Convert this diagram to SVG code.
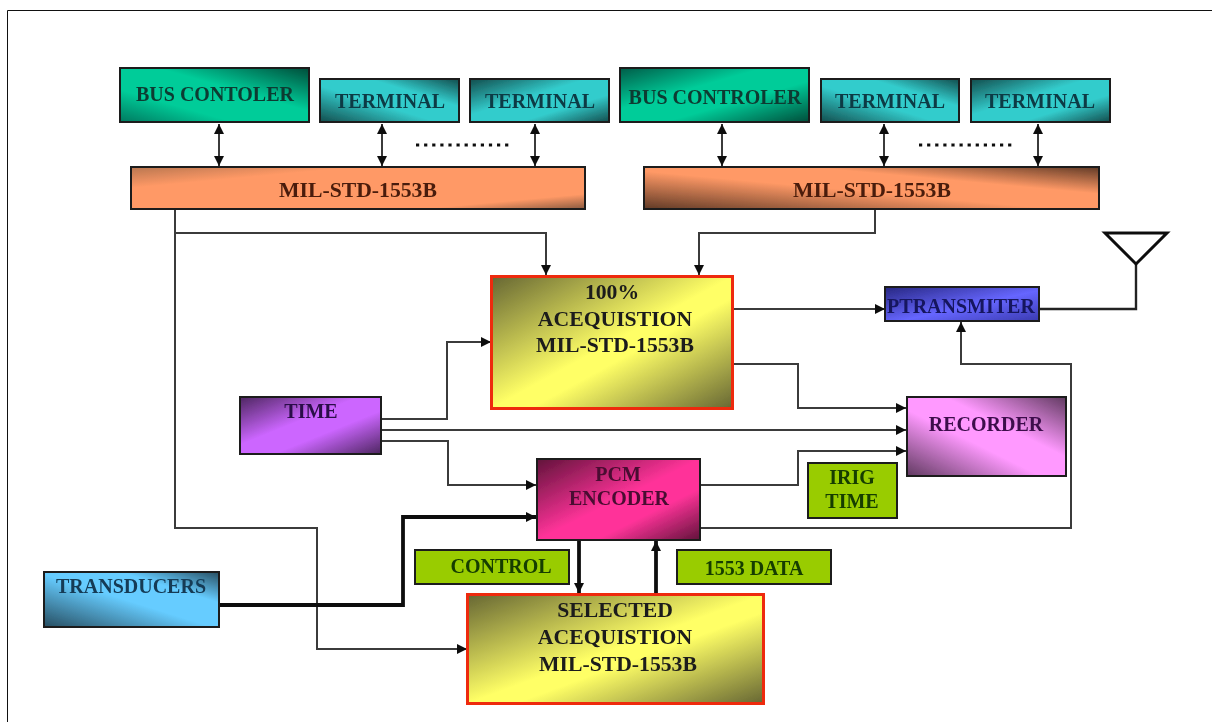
<svg xmlns="http://www.w3.org/2000/svg" width="1212" height="722" viewBox="0 0 1212 722">
<style>
text{font-family:"Liberation Serif","Times New Roman",serif;font-weight:bold;font-size:20px;text-anchor:middle;fill:#1a1a1a}
.w{font-size:21.7px}
.box{stroke:#1c1c1c;stroke-width:2}
.red{stroke:#ee2a10;stroke-width:3}
.c{fill:none;stroke:#3a3a3a;stroke-width:2}
.e{marker-end:url(#ah)}
.b{marker-start:url(#ah);marker-end:url(#ah)}
.t{stroke:#111;stroke-width:3.8}
.lbl{fill:#99cc00}
</style>
<defs>
<marker id="ah" markerUnits="userSpaceOnUse" markerWidth="11" markerHeight="12" refX="10" refY="6" orient="auto-start-reverse"><path d="M0,1L10,6L0,11Z" fill="#111"/></marker>
<filter id="soft" filterUnits="userSpaceOnUse" x="0" y="0" width="1212" height="722"><feGaussianBlur stdDeviation="0.7"/></filter>
<linearGradient id="gBus1" x1="0" y1="1" x2="1" y2="0"><stop offset="0" stop-color="#00795f"/><stop offset=".3" stop-color="#00cc99"/><stop offset=".6" stop-color="#00cc99"/><stop offset="1" stop-color="#004d3a"/></linearGradient>
<linearGradient id="gBus2" x1="0" y1="0" x2="1" y2="1"><stop offset="0" stop-color="#005c48"/><stop offset=".38" stop-color="#00cc99"/><stop offset=".62" stop-color="#00cc99"/><stop offset="1" stop-color="#004d3a"/></linearGradient>
<linearGradient id="gTerm" x1="0" y1="1" x2="1" y2="0"><stop offset="0" stop-color="#134d4d"/><stop offset=".42" stop-color="#33cccc"/><stop offset=".68" stop-color="#33cccc"/><stop offset="1" stop-color="#134d4d"/></linearGradient>
<linearGradient id="gTerm2" x1="0" y1="0" x2="1" y2="1"><stop offset="0" stop-color="#134d4d"/><stop offset=".42" stop-color="#33cccc"/><stop offset=".68" stop-color="#33cccc"/><stop offset="1" stop-color="#134d4d"/></linearGradient>
<linearGradient id="gMil1" x1="0" y1="0" x2="1" y2="1"><stop offset="0" stop-color="#b87650"/><stop offset=".25" stop-color="#ff9966"/><stop offset=".82" stop-color="#ff9966"/><stop offset="1" stop-color="#8a5a40"/></linearGradient>
<linearGradient id="gMil2" x1="0" y1="1" x2="1" y2="0"><stop offset="0" stop-color="#603a26"/><stop offset=".45" stop-color="#ff9966"/><stop offset=".68" stop-color="#ff9966"/><stop offset="1" stop-color="#603a26"/></linearGradient>
<linearGradient id="gYel" x1="0" y1="0" x2="1" y2="1"><stop offset="0" stop-color="#666633"/><stop offset=".5" stop-color="#ffff66"/><stop offset=".58" stop-color="#ffff66"/><stop offset="1" stop-color="#666633"/></linearGradient>
<linearGradient id="gTime" x1="0" y1="0" x2="1" y2="1"><stop offset="0" stop-color="#4d2660"/><stop offset=".42" stop-color="#cc66ff"/><stop offset=".62" stop-color="#cc66ff"/><stop offset="1" stop-color="#4d2660"/></linearGradient>
<linearGradient id="gRec" x1="0" y1="1" x2="1" y2="0"><stop offset="0" stop-color="#603a60"/><stop offset=".42" stop-color="#ff99ff"/><stop offset=".62" stop-color="#ff99ff"/><stop offset="1" stop-color="#603a60"/></linearGradient>
<linearGradient id="gPcm" x1="0" y1="0" x2="1" y2="1"><stop offset="0" stop-color="#60133a"/><stop offset=".5" stop-color="#ff3399"/><stop offset=".68" stop-color="#ff3399"/><stop offset="1" stop-color="#60133a"/></linearGradient>
<linearGradient id="gTr" x1="0" y1="1" x2="1" y2="0"><stop offset="0" stop-color="#264d60"/><stop offset=".48" stop-color="#66ccff"/><stop offset=".72" stop-color="#66ccff"/><stop offset="1" stop-color="#264d60"/></linearGradient>
<linearGradient id="gTx" x1="0" y1="0" x2="1" y2="1"><stop offset="0" stop-color="#262680"/><stop offset=".55" stop-color="#6666ff"/><stop offset="1" stop-color="#3a3ab0"/></linearGradient>
</defs>
<path d="M7.500,722V10.500H1212" fill="none" stroke="#111" stroke-width="1"/>
<g filter="url(#soft)">
<g id="connectors">
<path class="c b" d="M219,124V166"/>
<path class="c b" d="M382,124V166"/>
<path class="c b" d="M535,124V166"/>
<path class="c b" d="M722,124V166"/>
<path class="c b" d="M884,124V166"/>
<path class="c b" d="M1038,124V166"/>
<path class="c e" d="M175,209V233H546V275"/>
<path class="c e" d="M175,233V528H317V649H467"/>
<path class="c e" d="M875,209V233H699V275"/>
<path class="c e" d="M733,309H885"/>
<path class="c e" d="M733,364H798V408H906"/>
<path class="c e" d="M381,419H447V342H491"/>
<path class="c e" d="M381,430H906"/>
<path class="c e" d="M381,441H448V485H536"/>
<path class="c e" d="M700,485H798V451H906"/>
<path class="c e" d="M700,528H1071V364H961V322"/>
<path class="c t e" d="M219,605H403V517H536"/>
<path class="c t e" d="M579,541V593"/>
<path class="c t e" d="M656,594V541"/>
<path d="M1136,264V309H1039" fill="none" stroke="#222" stroke-width="2.400"/>
<path d="M1105,233H1167L1136,264Z" fill="#fff" stroke="#111" stroke-width="3"/>
<path d="M416,145H512" fill="none" stroke="#111" stroke-width="3" stroke-dasharray="3.200 4.900"/>
<path d="M919,145H1014" fill="none" stroke="#111" stroke-width="3" stroke-dasharray="3.200 4.900"/>
</g>
<g id="bus-controller-1"><rect class="box" x="120" y="68" width="189" height="54" fill="url(#gBus1)"/><text x="215" y="101" style="fill:#0b3a30">BUS CONTOLER</text></g>
<g id="terminal-1"><rect class="box" x="320" y="79" width="139" height="43" fill="url(#gTerm)"/><text x="390" y="108" style="fill:#0d3a44">TERMINAL</text></g>
<g id="terminal-2"><rect class="box" x="470" y="79" width="139" height="43" fill="url(#gTerm2)"/><text x="540" y="108" style="fill:#0d3a44">TERMINAL</text></g>
<g id="bus-controller-2"><rect class="box" x="620" y="68" width="189" height="54" fill="url(#gBus2)"/><text x="715" y="104" style="fill:#0b3a30">BUS CONTROLER</text></g>
<g id="terminal-3"><rect class="box" x="821" y="79" width="138" height="43" fill="url(#gTerm)"/><text x="890" y="108" style="fill:#0d3a44">TERMINAL</text></g>
<g id="terminal-4"><rect class="box" x="971" y="79" width="139" height="43" fill="url(#gTerm2)"/><text x="1040" y="108" style="fill:#0d3a44">TERMINAL</text></g>
<g id="bus-1"><rect class="box" x="131" y="167" width="454" height="42" fill="url(#gMil1)"/><text class="w" x="358" y="197" style="fill:#4a1c08">MIL-STD-1553B</text></g>
<g id="bus-2"><rect class="box" x="644" y="167" width="455" height="42" fill="url(#gMil2)"/><text class="w" x="872" y="197" style="fill:#4a1c08">MIL-STD-1553B</text></g>
<g id="acquisition-100"><rect class="red" x="491.500" y="276.500" width="241" height="132" fill="url(#gYel)"/><text class="w" x="612" y="299">100%</text><text class="w" x="615" y="326">ACEQUISTION</text><text class="w" x="615" y="352">MIL-STD-1553B</text></g>
<g id="transmitter"><rect class="box" x="885" y="287" width="154" height="34" fill="url(#gTx)"/><text x="961" y="313" style="fill:#14145e">PTRANSMITER</text></g>
<g id="time"><rect class="box" x="240" y="397" width="141" height="57" fill="url(#gTime)"/><text x="311" y="418" style="fill:#2c0f48">TIME</text></g>
<g id="recorder"><rect class="box" x="907" y="397" width="159" height="79" fill="url(#gRec)"/><text x="986" y="431" style="fill:#3c0f4c">RECORDER</text></g>
<g id="pcm-encoder"><rect class="box" x="537" y="459" width="163" height="81" fill="url(#gPcm)"/><text x="618" y="481" style="fill:#4a0a30">PCM</text><text x="619" y="505" style="fill:#4a0a30">ENCODER</text></g>
<g id="irig-time"><rect class="box lbl" x="808" y="463" width="89" height="55"/><text x="852" y="484" style="fill:#143c00">IRIG</text><text x="852" y="508" style="fill:#143c00">TIME</text></g>
<g id="control"><rect class="box lbl" x="415" y="550" width="154" height="34"/><text x="501" y="573" style="fill:#143c00">CONTROL</text></g>
<g id="data-1553"><rect class="box lbl" x="677" y="550" width="154" height="34"/><text x="754" y="575" style="fill:#143c00">1553 DATA</text></g>
<g id="transducers"><rect class="box" x="44" y="572" width="175" height="55" fill="url(#gTr)"/><text x="131" y="593" style="fill:#123a55">TRANSDUCERS</text></g>
<g id="selected-acquisition"><rect class="red" x="467.500" y="594.500" width="296" height="109" fill="url(#gYel)"/><text class="w" x="615" y="617">SELECTED</text><text class="w" x="615" y="644">ACEQUISTION</text><text class="w" x="618" y="671">MIL-STD-1553B</text></g>
</g>
</svg>
